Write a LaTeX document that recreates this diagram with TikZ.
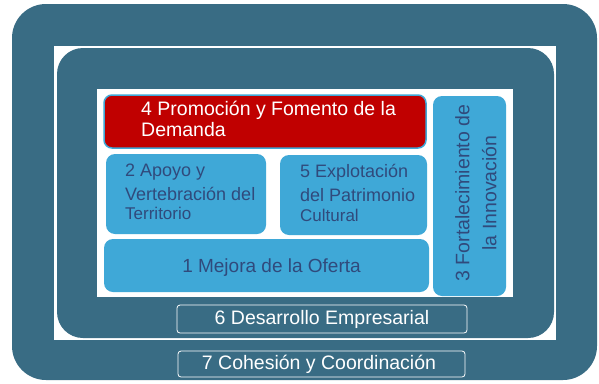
\documentclass[tikz,border=0pt]{standalone}
\usepackage{fontspec}
\setmainfont{Liberation Sans}
\usetikzlibrary{positioning}
\definecolor{frameteal}{HTML}{396C84}
\definecolor{tileblue}{HTML}{3FA8D7}
\definecolor{inkblue}{HTML}{304A7C}
\definecolor{promored}{HTML}{C00000}

\begin{document}
\begin{tikzpicture}[x=1pt,y=-1pt,
  tile/.style={fill=tileblue, rounded corners=9pt, inner sep=0pt},
  band/.style={draw=white, line width=0.8pt, fill=frameteal, rounded corners=3pt, inner sep=0pt},
  tiletext/.style={inner sep=0pt, text=inkblue, align=left, font=\fontsize{18}{21}\selectfont},
  bandtext/.style={inner sep=0pt, text=white, font=\fontsize{19.5}{21}\selectfont}]
\useasboundingbox (0,0) rectangle (599,383);
\fill[white] (0,0) rectangle (599,383);
% frames
\fill[frameteal, rounded corners=34pt] (12,4) rectangle (597,380);
\fill[white] (54,46) rectangle (556,340);
\fill[frameteal, rounded corners=26pt] (57,48) rectangle (554,338);
\fill[white] (97,89) rectangle (513,297);
% tiles
\node[tile, fill=promored, draw=tileblue, line width=1.5pt, rounded corners=8pt, minimum width=322pt, minimum height=53pt] (promo) at (265,121.5) {};
\node[tile, minimum width=160pt, minimum height=80pt] (apoyo) at (186,194) {};
\node[tile, minimum width=147pt, minimum height=80pt] (patri) at (353.5,195) {};
\node[tile, minimum width=325pt, minimum height=53pt] (mejora) at (266.5,265.5) {};
\node[tile, minimum width=73pt, minimum height=200pt] (innova) at (469.5,196) {};
\node[band, minimum width=290pt, minimum height=28pt] (desarrollo) at (322,319) {};
\node[band, minimum width=287pt, minimum height=26pt] (cohesion) at (321.5,364) {};
% texts
\node[bandtext, align=left, anchor=north west] (promotxt) at (141,101) {4 Promoción y Fomento de la\\Demanda};
\node[tiletext, anchor=north west] (apoyotxt) at (125,164) {2 Apoyo y\\[3pt]Vertebración del\\[-2pt]{\fontsize{17}{19}\selectfont Territorio}};
\node[tiletext, anchor=north west] (patritxt) at (300,164) {5 Explotación\\[3pt]del Patrimonio\\[-1pt]{\fontsize{17}{19}\selectfont Cultural}};
\node[tiletext, font=\fontsize{19}{21}\selectfont, anchor=base] (mejoratxt) at (271.5,272.5) {1 Mejora de la Oferta};
\node[tiletext, align=center, rotate=90, font=\fontsize{19.5}{27}\selectfont] (innovatxt) at (476,193) {3 Fortalecimiento de\\la Innovación};
\node[bandtext, anchor=base] (desarrollotxt) at (322,324) {6 Desarrollo Empresarial};
\node[bandtext, anchor=base] (cohesiontxt) at (319,369) {7 Cohesión y Coordinación};
\end{tikzpicture}
\end{document}
